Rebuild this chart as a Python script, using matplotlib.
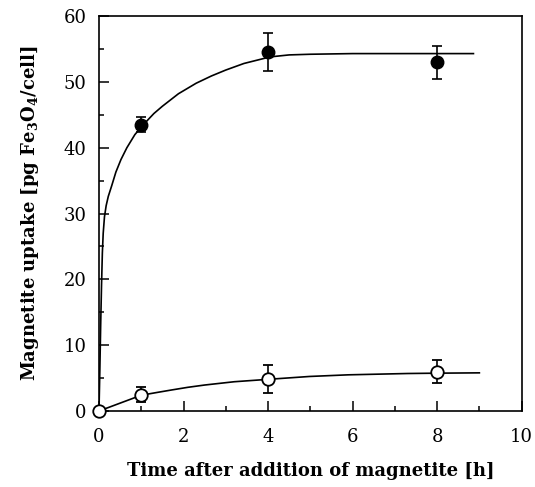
import matplotlib
matplotlib.use("Agg")
import matplotlib.pyplot as plt
from matplotlib.ticker import MultipleLocator

# measured points (hours, pg Fe3O4/cell)
filled_x = [1, 4, 8]
filled_y = [43.5, 54.5, 53.0]
filled_err = [1.1, 2.9, 2.5]

open_x = [0, 1, 4, 8]
open_y = [0.0, 2.5, 4.9, 6.0]
open_err = [0.0, 1.2, 2.15, 1.7]

# fitted curves
fit_filled_x = [0, 0.02, 0.04, 0.06, 0.08, 0.10, 0.13, 0.17, 0.22, 0.30, 0.40, 0.52,
                0.66, 0.85, 1.05, 1.30, 1.50, 1.88, 2.30, 2.66, 3.00, 3.43, 4.05,
                4.50, 5.00, 6.00, 7.00, 8.86]
fit_filled_y = [0, 6, 13, 19, 24, 27, 29.5, 31.2, 32.6, 34.2, 36.3, 38.2,
                40.0, 42.0, 43.5, 45.2, 46.3, 48.2, 49.8, 50.9, 51.8, 52.8, 53.8,
                54.1, 54.2, 54.3, 54.3, 54.3]

fit_open_x = [0, 1.0, 1.4, 1.72, 2.1, 2.5, 3.2, 3.97, 4.98, 5.9, 7.3, 8.0, 9.0]
fit_open_y = [0, 2.4, 2.85, 3.2, 3.6, 3.95, 4.45, 4.8, 5.25, 5.5, 5.7, 5.75, 5.8]

xticks = [0, 2, 4, 6, 8, 10]
yticks = [0, 10, 20, 30, 40, 50, 60]

plt.rcParams['font.family'] = ['DejaVu Serif']
plt.rcParams['mathtext.fontset'] = 'dejavuserif'

fig = plt.figure(figsize=(5.35, 4.87), dpi=100)
ax = fig.add_axes([0.185, 0.156, 0.79, 0.811])

ax.plot(fit_filled_x, fit_filled_y, color='black', lw=1.2, zorder=2)
ax.plot(fit_open_x, fit_open_y, color='black', lw=1.2, zorder=2)

ax.errorbar(filled_x, filled_y, yerr=filled_err, fmt='o', color='black',
            markersize=9, markerfacecolor='black', markeredgecolor='black',
            ecolor='black', elinewidth=1.2, capsize=3.5, capthick=1.2, zorder=3,
            clip_on=False)
ax.errorbar(open_x, open_y, yerr=open_err, fmt='o', color='black',
            markersize=9, markerfacecolor='white', markeredgecolor='black',
            markeredgewidth=1.3, ecolor='black', elinewidth=1.2, capsize=3.5,
            capthick=1.2, zorder=4, clip_on=False)

ax.set_xlim(0, 10)
ax.set_ylim(0, 60)
ax.set_xticks(xticks)
ax.set_yticks(yticks)
ax.xaxis.set_minor_locator(MultipleLocator(1))
ax.yaxis.set_minor_locator(MultipleLocator(5))
ax.tick_params(which='major', direction='in', length=7, width=1.1, labelsize=13)
ax.tick_params(axis='x', which='major', pad=12)
ax.tick_params(axis='y', which='major', pad=9)
ax.tick_params(which='minor', direction='in', length=3.5, width=1.1)
for s in ax.spines.values():
    s.set_linewidth(1.2)

ax.set_xlabel('Time after addition of magnetite [h]', fontsize=13,
              fontweight='bold', labelpad=12)
ax.set_ylabel(r'Magnetite uptake [pg Fe$_\mathbf{3}$O$_\mathbf{4}$/cell]', fontsize=13,
              fontweight='bold', labelpad=16)

fig.savefig('out.png', dpi=100)
